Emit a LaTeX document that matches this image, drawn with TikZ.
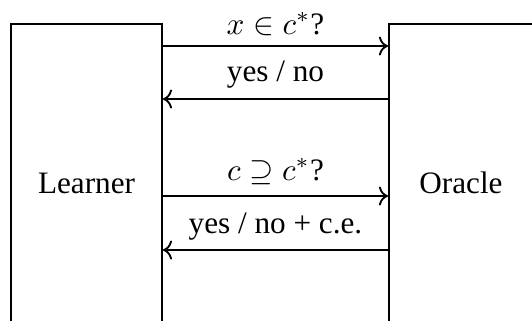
\documentclass[tikz,border=0pt]{standalone}
\usepackage{fontspec}
\setmainfont{Liberation Serif}
\usetikzlibrary{arrows.meta}

\begin{document}
\begin{tikzpicture}[
    x=0.3205pt, y=-0.3205pt,
    party/.style={draw, line width=0.6pt, minimum height=101.9pt, inner sep=0pt},
    msg/.style={anchor=base, inner sep=0pt},
    arrow/.style={->, line width=0.6pt}
]
\clip (0,0) rectangle (532,320);
\node[party, minimum width=48.4pt] (learner) at (86.5,183) {Learner};
\node[party, minimum width=46.2pt] (oracle) at (461,183) {Oracle};
% message rows
\coordinate (q1) at (275.5,46);
\coordinate (a1) at (275.5,99);
\coordinate (q2) at (275.5,196);
\coordinate (a2) at (275.5,250);
\node[msg] (q1txt) at (275.5,34) {$x \in c^*$?};
\node[msg] (a1txt) at (275.5,81) {yes / no};
\node[msg] (q2txt) at (275.5,180) {$c \supseteq c^*$?};
\node[msg] (a2txt) at (275.5,233) {yes / no + c.e.};
\draw[arrow] (learner.east |- q1) -- (oracle.west |- q1);
\draw[arrow] (oracle.west |- a1) -- (learner.east |- a1);
\draw[arrow] (learner.east |- q2) -- (oracle.west |- q2);
\draw[arrow] (oracle.west |- a2) -- (learner.east |- a2);
\end{tikzpicture}
\end{document}
